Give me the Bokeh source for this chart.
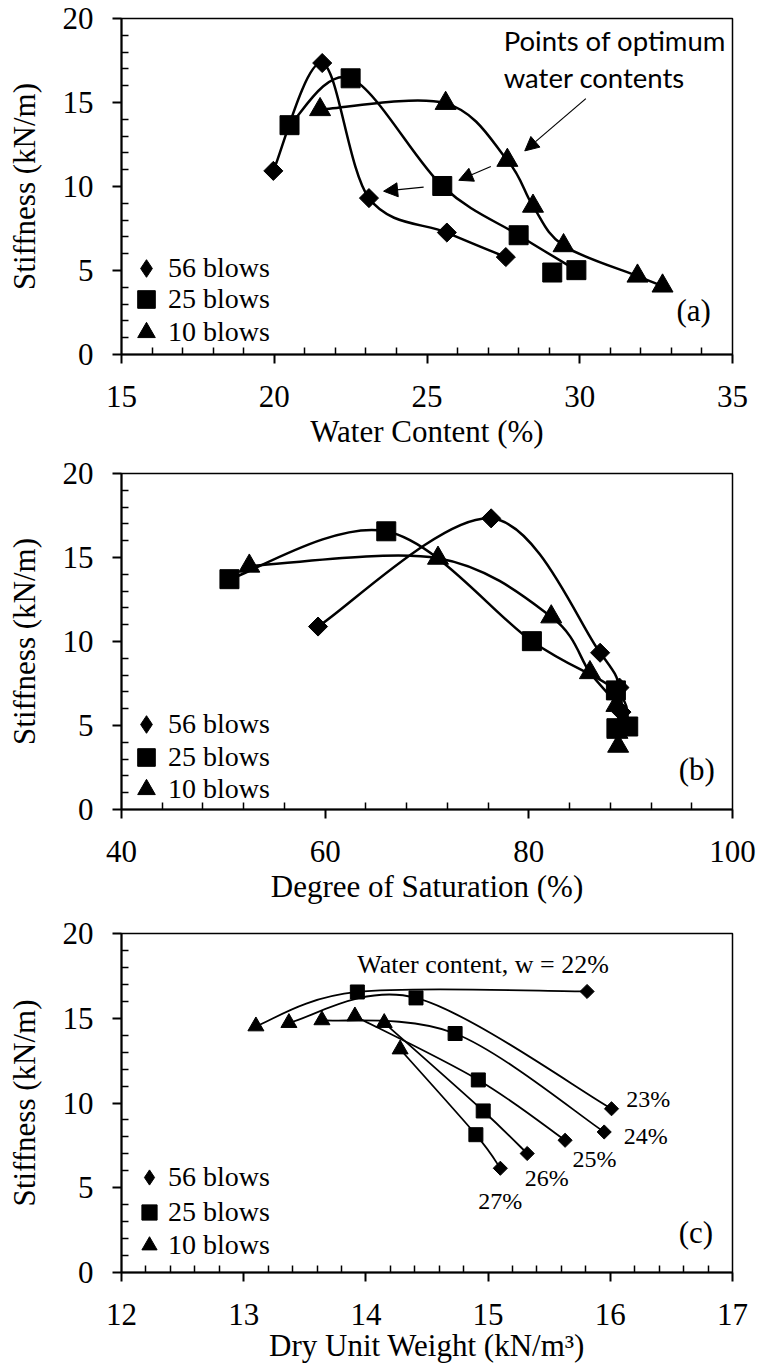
import numpy as np
from bokeh.plotting import figure
from bokeh.models import (Range1d, FixedTicker, Legend, LegendItem, Label, Arrow,
                          NormalHead, ColumnDataSource)
from bokeh.layouts import column
from bokeh.embed import file_html
from bokeh.resources import INLINE

# ---------------- data ----------------
# (a) stiffness vs water content
wc_56 = [19.97, 21.57, 23.1, 25.65, 27.58]
k_56_a = [10.93, 17.35, 9.31, 7.26, 5.80]
wc_25 = [20.5, 22.5, 25.5, 28.0, 29.1, 29.89]
k_25_a = [13.65, 16.44, 10.03, 7.1, 4.88, 5.02]
curve_25_a = [True, True, True, True, False, True]
wc_10 = [21.5, 25.61, 27.63, 28.47, 29.47, 31.89, 32.71]
k_10_a = [14.58, 14.95, 11.56, 8.83, 6.48, 4.67, 4.08]

# (b) stiffness vs degree of saturation
sat_56 = [59.3, 76.3, 87.0, 88.9, 89.1]
k_56_b = [10.89, 17.33, 9.33, 7.26, 5.8]
sat_25 = [50.6, 66.0, 80.3, 88.55, 88.6, 89.76]
k_25_b = [13.71, 16.56, 10.02, 7.09, 4.84, 4.94]
curve_25_b = [True, True, True, True, False, True]
sat_10 = [52.55, 71.08, 82.2, 86.0, 88.6, 88.7, 88.77]
k_10_b = [14.49, 14.96, 11.47, 8.15, 6.2, 4.6, 3.77]

# (c) stiffness vs dry unit weight, curves of equal water content
w_labels = ["22%", "23%", "24%", "25%", "26%", "27%"]
gd_10 = [13.10, 13.37, 13.64, 13.91, 14.15, 14.28]
k_10_c = [14.53, 14.73, 14.89, 15.12, 14.73, 13.17]
gd_25 = [13.93, 14.41, 14.73, 14.92, 14.96, 14.90]
k_25_c = [16.55, 16.2, 14.1, 11.36, 9.53, 8.13]
gd_56 = [15.81, 16.01, 15.95, 15.63, 15.32, 15.10]
k_56_c = [16.58, 9.66, 8.29, 7.8, 7.02, 6.15]

series_names = ["56 blows", "25 blows", "10 blows"]
series_markers = ["diamond", "square", "triangle"]
y_ticks = [0, 5, 10, 15, 20]

SERIF = "Liberation Serif"
FS = "31px"


def smooth_source(xs, ys):
    """Excel-like smoothed line: cubic Bezier segments (Catmull-Rom, tension 1/6)."""
    x = np.asarray(xs, float)
    y = np.asarray(ys, float)
    n = len(x)
    xp = np.r_[x[0], x, x[-1]]
    yp = np.r_[y[0], y, y[-1]]
    i = np.arange(n - 1)
    return ColumnDataSource(dict(
        x0=x[:-1], y0=y[:-1], x1=x[1:], y1=y[1:],
        cx0=xp[i + 1] + (xp[i + 2] - xp[i]) / 6, cy0=yp[i + 1] + (yp[i + 2] - yp[i]) / 6,
        cx1=xp[i + 2] - (xp[i + 3] - xp[i + 1]) / 6, cy1=yp[i + 2] - (yp[i + 3] - yp[i + 1]) / 6,
    ))


def curve(p, xs, ys, lw):
    p.bezier(x0="x0", y0="y0", x1="x1", y1="y1", cx0="cx0", cy0="cy0", cx1="cx1", cy1="cy1",
             source=smooth_source(xs, ys), line_color="black", line_width=lw)


def make_fig(xr, xticks, xminor, height, top, bottom, xlabel, lab_standoff):
    p = figure(width=759, height=height, x_range=Range1d(*xr), y_range=Range1d(0, 20),
               output_backend="svg", toolbar_location=None,
               min_border_left=121, min_border_right=27, min_border_top=top,
               min_border_bottom=bottom)
    p.xgrid.visible = False
    p.ygrid.visible = False
    p.outline_line_color = "black"
    p.outline_line_width = 1.5
    p.outline_line_alpha = 1
    p.xaxis.ticker = FixedTicker(ticks=xticks, minor_ticks=xminor)
    p.yaxis.ticker = FixedTicker(ticks=y_ticks, minor_ticks=[v for v in range(1, 20) if v % 5])
    for ax in (p.xaxis[0], p.yaxis[0]):
        ax.axis_line_width = 2
        ax.axis_line_color = "black"
        ax.major_tick_line_width = 2
        ax.major_tick_out = 9
        ax.major_tick_in = 0
        ax.minor_tick_line_width = 1.5
        ax.minor_tick_in = 7
        ax.minor_tick_out = 0
        ax.major_label_text_font = SERIF
        ax.major_label_text_font_size = FS
        ax.major_label_text_color = "black"
        ax.axis_label_text_font = SERIF
        ax.axis_label_text_font_size = FS
        ax.axis_label_text_font_style = "normal"
        ax.axis_label_text_color = "black"
    p.xaxis.major_label_standoff = 22
    p.xaxis.axis_label_standoff = lab_standoff
    p.xaxis.axis_label = xlabel
    p.yaxis.major_label_standoff = 19
    p.yaxis.axis_label_standoff = 18
    p.yaxis.axis_label = "Stiffness (kN/m)"
    return p


def add_legend(p, box, x_loc, row_bottoms):
    # one single-entry legend per row so that rows can sit closer than the glyph box
    for name, mk, yb in zip(series_names, series_markers, row_bottoms):
        proxy = p.scatter(x=[np.nan], y=[np.nan], marker=mk, color="black")
        leg = Legend(items=[LegendItem(label=name, renderers=[proxy])], location=(x_loc, yb),
                     glyph_width=box, glyph_height=box, label_standoff=0, padding=0, margin=0,
                     border_line_alpha=0, background_fill_alpha=0,
                     label_text_font=SERIF, label_text_font_size="28px", label_text_color="black")
        p.add_layout(leg)


def panel_label(p, x, y, text):
    p.add_layout(Label(x=x, y=y, text=text, text_font=SERIF, text_font_size=FS,
                       text_align="center", text_baseline="middle", text_color="black"))


# ---------------- (a) ----------------
pa = make_fig((15, 35), [15, 20, 25, 30, 35], [v for v in range(16, 35) if v % 5],
              451, 18, 92, "Water Content (%)", 4)
curve(pa, wc_56, k_56_a, 2.5)
curve(pa, [x for x, c in zip(wc_25, curve_25_a) if c], [y for y, c in zip(k_25_a, curve_25_a) if c], 2.5)
curve(pa, wc_10, k_10_a, 2.5)
pa.scatter(wc_56, k_56_a, marker="square", angle=np.pi / 4, size=13.5, color="black")
pa.scatter(wc_25, k_25_a, marker="square", size=19, color="black")
pa.scatter(wc_10, k_10_a, marker="triangle", size=21, color="black")
for xs, ys, xe, ye in [(30.2, 15.23, 28.2, 12.12), (27.09, 11.19, 26.04, 10.37), (24.89, 9.96, 23.58, 9.72)]:
    pa.add_layout(Arrow(x_start=xs, y_start=ys, x_end=xe, y_end=ye, line_width=1.2, line_color="black",
                        end=NormalHead(size=14, fill_color="black", line_color="black")))
for txt, yy in [("Points of optimum", 18.68), ("water contents", 16.51)]:
    pa.add_layout(Label(x=27.51, y=yy, text=txt, text_font="Lato", text_font_size="27.5px",
                        text_align="left", text_baseline="middle", text_color="black"))
panel_label(pa, 33.73, 2.64, "(a)")
add_legend(pa, 44, 3, [64, 33, 0])

# ---------------- (b) ----------------
pb = make_fig((40, 100), [40, 60, 80, 100], [v for v in range(44, 100, 4) if v % 20],
              455, 22, 92, "Degree of Saturation (%)", 4)
curve(pb, sat_56, k_56_b, 2.5)
curve(pb, [x for x, c in zip(sat_25, curve_25_b) if c], [y for y, c in zip(k_25_b, curve_25_b) if c], 2.5)
curve(pb, sat_10, k_10_b, 2.5)
pb.scatter(sat_56, k_56_b, marker="square", angle=np.pi / 4, size=13.5, color="black")
pb.scatter(sat_25, k_25_b, marker="square", size=19, color="black")
pb.scatter(sat_10, k_10_b, marker="triangle", size=21, color="black")
panel_label(pb, 96.5, 2.40, "(b)")
add_legend(pb, 44, 3, [63, 30, -2])

# ---------------- (c) ----------------
pc = make_fig((12, 17), [12, 13, 14, 15, 16, 17],
              [round(12 + 0.2 * k, 1) for k in range(1, 25) if k % 5],
              459, 27, 90, "Dry Unit Weight (kN/m³)", 0)
for i in range(len(w_labels)):
    curve(pc, [gd_10[i], gd_25[i], gd_56[i]], [k_10_c[i], k_25_c[i], k_56_c[i]], 1.8)
pc.scatter(gd_56, k_56_c, marker="square", angle=np.pi / 4, size=10, color="black")
pc.scatter(gd_25, k_25_c, marker="square", size=14, color="black")
pc.scatter(gd_10, k_10_c, marker="triangle", size=16, color="black")
pc.add_layout(Label(x=13.93, y=18.15, text="Water content, w = " + w_labels[0], text_font=SERIF,
                    text_font_size="26px", text_align="left", text_baseline="middle", text_color="black"))
lab_pos = [(16.13, 10.24), (16.11, 8.06), (15.69, 6.67), (15.30, 5.56), (14.92, 4.23)]
for txt, (lx, ly) in zip(w_labels[1:], lab_pos):
    pc.add_layout(Label(x=lx, y=ly, text=txt, text_font=SERIF, text_font_size="24px",
                        text_align="left", text_baseline="middle", text_color="black"))
panel_label(pc, 16.70, 2.34, "(c)")
add_legend(pc, 38, 9, [76, 41, 8])

layout = column(pa, pb, pc, spacing=0)
open("out.html", "w").write(file_html(layout, INLINE))
